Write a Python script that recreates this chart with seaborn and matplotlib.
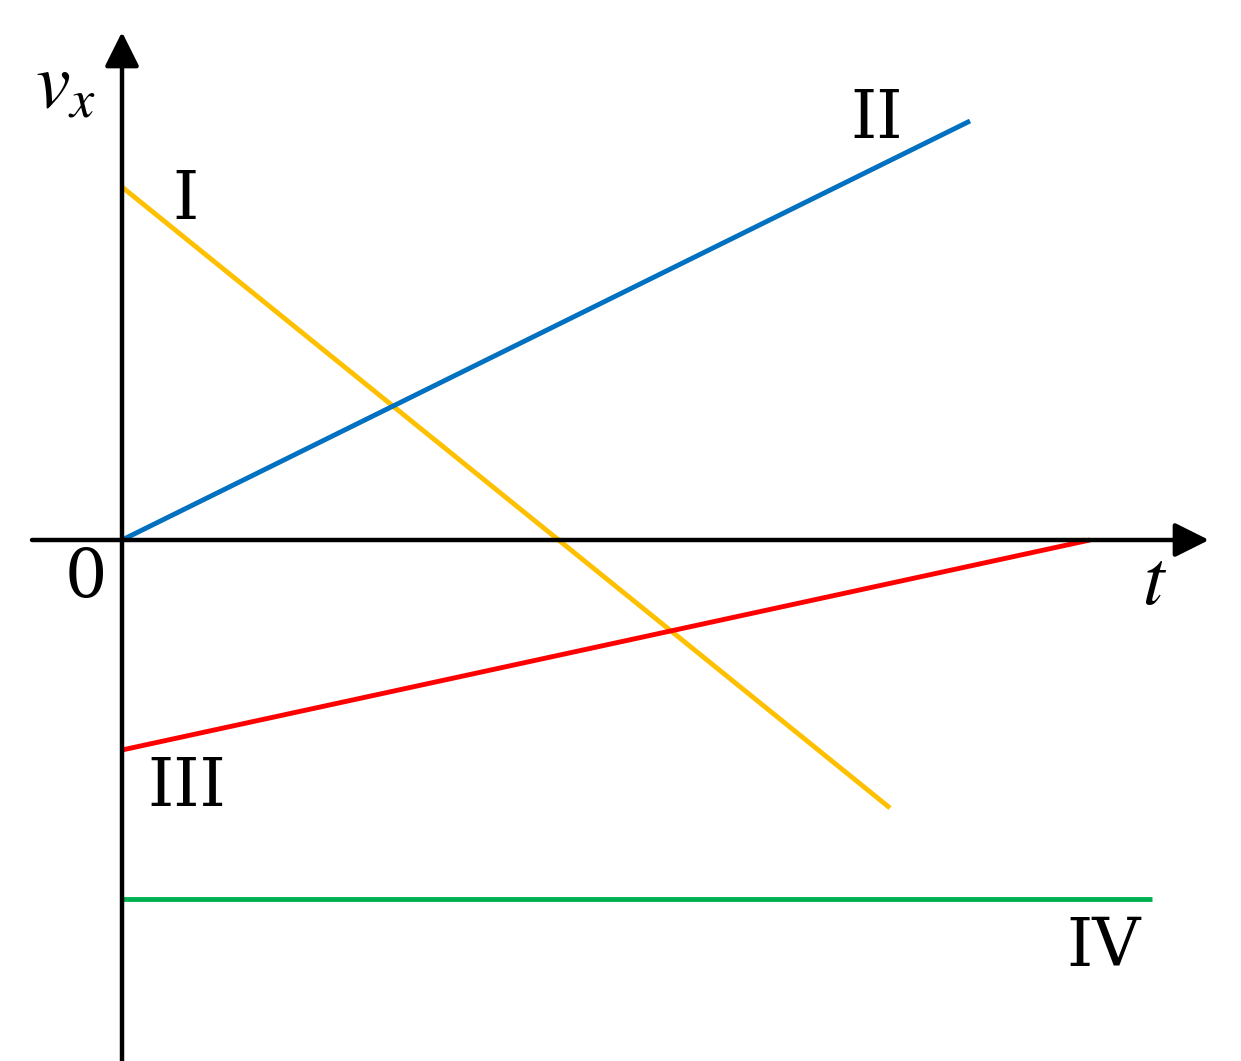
import matplotlib
matplotlib.use("Agg")
import matplotlib.pyplot as plt
import seaborn as sns
import pandas as pd

# ---- data (t in arbitrary units, v_x in arbitrary units) ----
t_I = [0.0, 7.68]
v_I = [3.53, -2.68]
t_II = [0.0, 8.48]
v_II = [0.0, 4.19]
t_III = [0.0, 9.68]
v_III = [-2.10, 0.0]
t_IV = [0.0, 10.30]
v_IV = [-3.59, -3.59]
labels = ["I", "II", "III", "IV"]
colors = ["#FFC000", "#0070C0", "#FF0000", "#00B050"]

df = pd.concat([
    pd.DataFrame({"t": t_I, "v": v_I, "line": "I"}),
    pd.DataFrame({"t": t_II, "v": v_II, "line": "II"}),
    pd.DataFrame({"t": t_III, "v": v_III, "line": "III"}),
    pd.DataFrame({"t": t_IV, "v": v_IV, "line": "IV"}),
], ignore_index=True)

sns.set_style("white")
plt.rcParams["mathtext.fontset"] = "stix"
plt.rcParams["text.color"] = "black"

fig = plt.figure(figsize=(12.41, 10.61), dpi=100)
ax = fig.add_axes([0, 0, 1, 1])

sns.lineplot(data=df, x="t", y="v", hue="line", hue_order=labels,
             palette=dict(zip(labels, colors)), linewidth=3.5,
             legend=False, ax=ax, estimator=None, sort=False,
             solid_capstyle="butt")

ax.set_xlim(-1.22, 11.19)
ax.set_ylim(-5.21, 5.40)
ax.axis("off")

# axes with arrows
arrow_kw = dict(arrowstyle="-|>,head_length=21,head_width=10.5",
                mutation_scale=1, lw=3.2, color="black",
                shrinkA=0, shrinkB=0)
ax.annotate("", xy=(10.87, 0.0), xytext=(-0.90, 0.0), arrowprops=arrow_kw)
ax.annotate("", xy=(0.0, 5.08), xytext=(0.0, -5.25), arrowprops=arrow_kw)

serif = "DejaVu Serif"
ax.text(-0.57, 4.55, r"$v_x$", fontsize=56, color="black", ha="center", va="center")
ax.text(10.33, -0.42, r"$t$", fontsize=56, color="black", ha="center", va="center")
ax.text(-0.36, -0.38, "0", fontsize=48, family=serif, color="black",
        ha="center", va="center")

label_pos = {"I": (0.64, 3.40), "II": (7.55, 4.21),
             "III": (0.65, -2.47), "IV": (9.82, -4.07)}
for lab in labels:
    x, y = label_pos[lab]
    ax.text(x, y, lab, fontsize=48, family=serif, color="black",
            ha="center", va="center")

fig.savefig("out.png", dpi=100, facecolor="white")
